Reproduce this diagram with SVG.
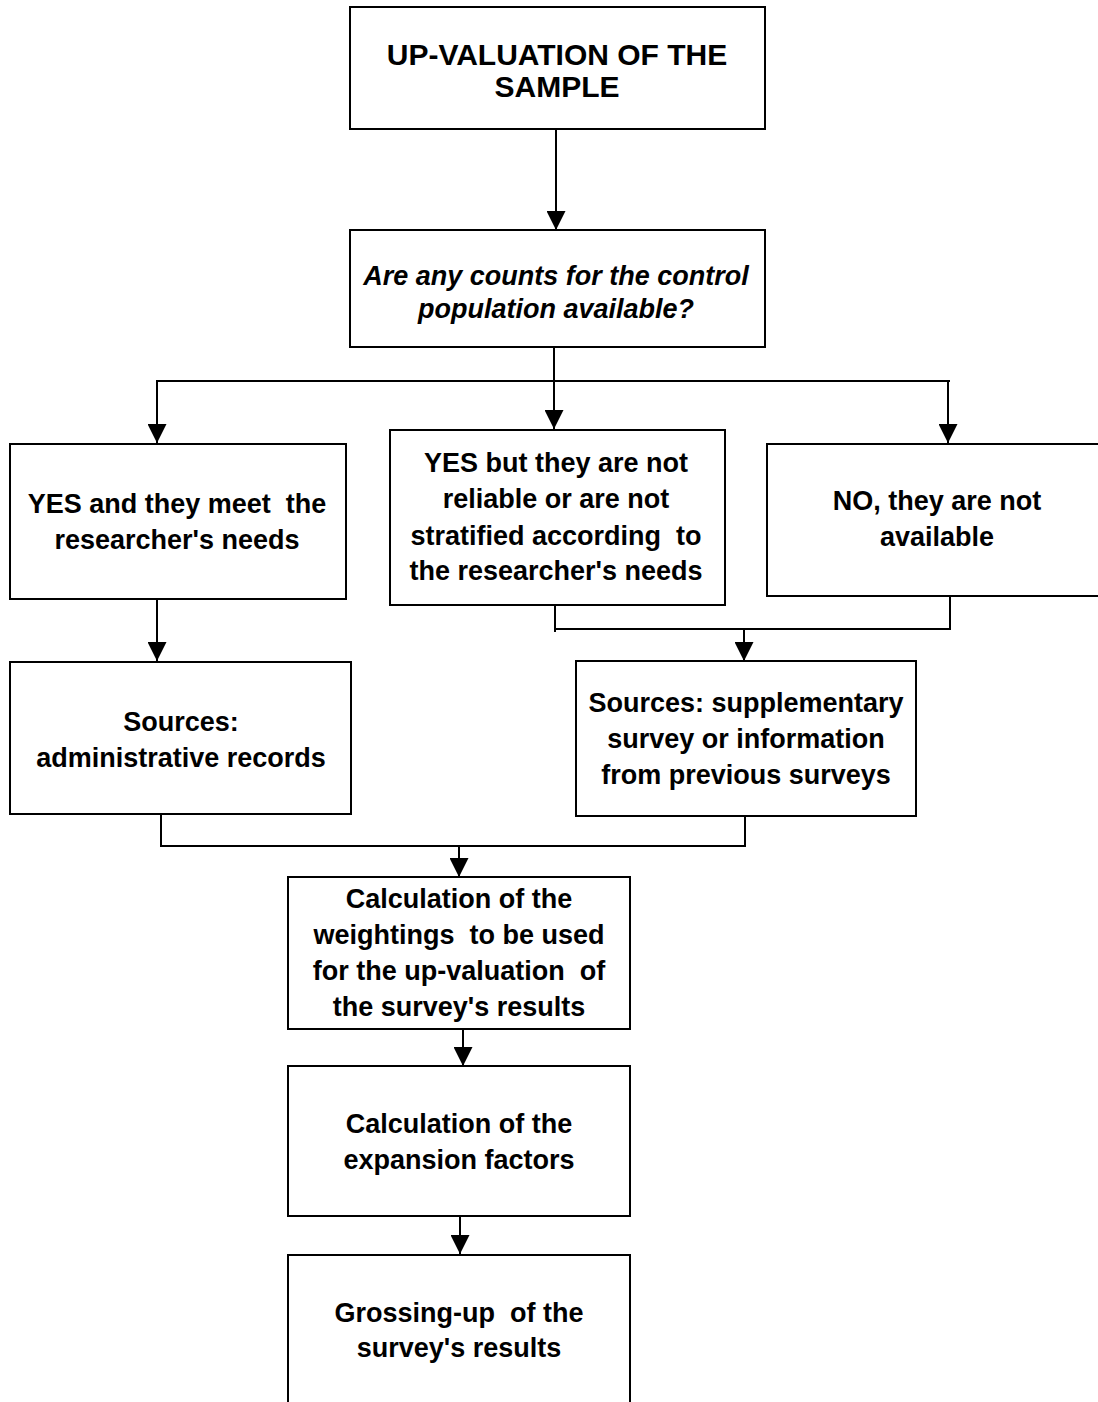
<svg xmlns="http://www.w3.org/2000/svg" width="1098" height="1402" viewBox="0 0 1098 1402">
  <style>
    .box { fill: #ffffff; stroke: #000000; stroke-width: 2; }
    .lbl { font-family: "Liberation Sans", Arial, Helvetica, sans-serif; font-weight: bold; font-size: 27px; fill: #000000; text-anchor: middle; }
    .title { font-size: 30px; }
    .q { font-style: italic; }
    .wire { fill: none; stroke: #000000; stroke-width: 2; }
    .arrow { fill: none; stroke: #000000; stroke-width: 2; marker-end: url(#head); }
  </style>
  <defs>
    <marker id="head" viewBox="0 0 20 20" refX="20" refY="10" markerWidth="20" markerHeight="19" markerUnits="userSpaceOnUse" orient="auto">
      <path d="M0,0 L20,10 L0,20 z" fill="#000000"/>
    </marker>
  </defs>

  <rect width="1098" height="1402" fill="#ffffff"/>

  <!-- connectors -->
  <g id="connectors">
    <line class="arrow" x1="556" y1="129" x2="556" y2="230"/>
    <line class="arrow" x1="554" y1="347" x2="554" y2="429"/>
    <line class="wire" x1="156" y1="381" x2="950" y2="381"/>
    <line class="arrow" x1="157" y1="381" x2="157" y2="443"/>
    <line class="arrow" x1="948" y1="381" x2="948" y2="443"/>
    <line class="arrow" x1="157" y1="599" x2="157" y2="661"/>
    <polyline class="wire" points="555,605 555,632"/>
    <polyline class="wire" points="555,629 950,629 950,596"/>
    <line class="arrow" x1="744" y1="629" x2="744" y2="661"/>
    <polyline class="wire" points="161,814 161,846 745,846 745,816"/>
    <line class="arrow" x1="459" y1="846" x2="459" y2="877"/>
    <line class="arrow" x1="463" y1="1029" x2="463" y2="1066"/>
    <line class="arrow" x1="460" y1="1216" x2="460" y2="1254"/>
  </g>

  <g id="node-upvaluation">
    <rect class="box" x="350" y="7" width="415" height="122"/>
    <text class="lbl title" x="557" y="65">UP-VALUATION OF THE</text>
    <text class="lbl title" x="557" y="97">SAMPLE</text>
  </g>

  <g id="node-question">
    <rect class="box" x="350" y="230" width="415" height="117"/>
    <text class="lbl q" x="556" y="285">Are any counts for the control</text>
    <text class="lbl q" x="556" y="318">population available?</text>
  </g>

  <g id="node-yes-meet">
    <rect class="box" x="10" y="444" width="336" height="155"/>
    <text class="lbl" x="177" y="513" xml:space="preserve">YES and they meet  the</text>
    <text class="lbl" x="177" y="549">researcher's needs</text>
  </g>

  <g id="node-yes-not-reliable">
    <rect class="box" x="390" y="430" width="335" height="175"/>
    <text class="lbl" x="556" y="472">YES but they are not</text>
    <text class="lbl" x="556" y="508">reliable or are not</text>
    <text class="lbl" x="556" y="545" xml:space="preserve">stratified according  to</text>
    <text class="lbl" x="556" y="580">the researcher's needs</text>
  </g>

  <g id="node-no">
    <rect class="box" x="767" y="444" width="345" height="152"/>
    <text class="lbl" x="937" y="510">NO, they are not</text>
    <text class="lbl" x="937" y="546">available</text>
  </g>

  <g id="node-admin-records">
    <rect class="box" x="10" y="662" width="341" height="152"/>
    <text class="lbl" x="181" y="731">Sources:</text>
    <text class="lbl" x="181" y="767">administrative records</text>
  </g>

  <g id="node-supplementary">
    <rect class="box" x="576" y="661" width="340" height="155"/>
    <text class="lbl" x="746" y="712">Sources: supplementary</text>
    <text class="lbl" x="746" y="748">survey or information</text>
    <text class="lbl" x="746" y="784">from previous surveys</text>
  </g>

  <g id="node-weightings">
    <rect class="box" x="288" y="877" width="342" height="152"/>
    <text class="lbl" x="459" y="908">Calculation of the</text>
    <text class="lbl" x="459" y="944" xml:space="preserve">weightings  to be used</text>
    <text class="lbl" x="459" y="980" xml:space="preserve">for the up-valuation  of</text>
    <text class="lbl" x="459" y="1016">the survey's results</text>
  </g>

  <g id="node-expansion">
    <rect class="box" x="288" y="1066" width="342" height="150"/>
    <text class="lbl" x="459" y="1133">Calculation of the</text>
    <text class="lbl" x="459" y="1169">expansion factors</text>
  </g>

  <g id="node-grossing">
    <rect class="box" x="288" y="1255" width="342" height="170"/>
    <text class="lbl" x="459" y="1322" xml:space="preserve">Grossing-up  of the</text>
    <text class="lbl" x="459" y="1357">survey's results</text>
  </g>
</svg>
